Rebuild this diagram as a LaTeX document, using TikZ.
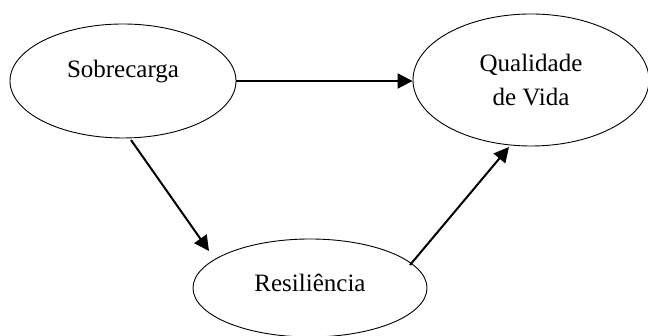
\documentclass[tikz,border=0pt]{standalone}
\usepackage{fontspec}
\setmainfont{Liberation Serif}
\usetikzlibrary{shapes.geometric,arrows.meta}
\begin{document}
\begin{tikzpicture}[x=1pt,y=1pt,
  ell/.style={draw,ellipse,line width=0.9pt,inner sep=0pt},
  txt/.style={font=\fontsize{25}{34}\selectfont,align=center,inner sep=0pt},
  arr/.style={line width=2pt,-{Triangle[length=15pt,width=15pt]}}]
\useasboundingbox (0,0) rectangle (648,336);
\node[ell,minimum width=226pt,minimum height=114pt] (sob) at (123,255) {};
\node[ell,minimum width=236pt,minimum height=132pt] (qual) at (531,256) {};
\node[ell,minimum width=234pt,minimum height=98pt] (res) at (310,48) {};
\node[txt] (tsob) at (123,264) {Sobrecarga};
\node[txt] (tqual) at (531,256) {Qualidade\\de Vida};
\node[txt] (tres) at (310,53) {Resiliência};
\draw[arr] (sob.east) -- (sob.east -| qual.west);
\draw[arr] ([shift={(8pt,-59pt)}]sob.center) -- ([shift={(-101pt,37pt)}]res.center);
\draw[arr] ([shift={(100pt,23pt)}]res.center) -- ([shift={(-22pt,-67pt)}]qual.center);
\end{tikzpicture}
\end{document}
